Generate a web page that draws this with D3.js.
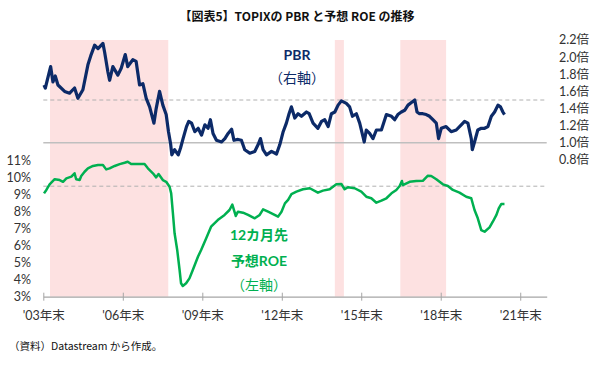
<!DOCTYPE html>
<html><head><meta charset="utf-8">
<script src="https://cdn.jsdelivr.net/npm/d3@7"></script>
<style>
html,body{margin:0;padding:0;background:#fff;}
svg{display:block;}
text{font-family:Lato,"Noto Sans CJK JP",sans-serif;}
</style></head>
<body><svg id="c" width="600" height="366"></svg>
<script>
// ---- data ----
const pbrDates = ["2004-01-10","2004-01-28","2004-04-10","2004-05-12","2004-06-13","2004-07-20","2004-10-20","2004-12-28","2005-03-06","2005-04-21","2005-06-29","2005-09-06","2005-10-21","2005-12-08","2006-01-23","2006-04-01","2006-04-24","2006-06-08","2006-07-02","2006-08-16","2006-10-24","2006-12-09","2007-02-03","2007-03-09","2007-05-18","2007-07-03","2007-08-19","2007-10-04","2007-11-19","2008-01-05","2008-03-04","2008-04-04","2008-05-21","2008-07-05","2008-08-20","2008-09-21","2008-10-20","2008-11-06","2008-12-14","2009-02-03","2009-03-06","2009-04-10","2009-05-27","2009-06-27","2009-08-05","2009-09-19","2009-11-04","2009-12-20","2010-02-05","2010-03-20","2010-04-22","2010-05-28","2010-07-14","2010-09-22","2010-11-07","2010-12-22","2011-02-08","2011-03-12","2011-05-07","2011-06-23","2011-08-08","2011-10-16","2011-12-24","2012-02-09","2012-03-12","2012-04-17","2012-06-03","2012-08-11","2012-10-19","2012-12-04","2013-01-19","2013-03-04","2013-04-10","2013-05-13","2013-06-28","2013-08-12","2013-09-28","2013-12-06","2014-01-12","2014-03-07","2014-05-13","2014-07-01","2014-08-15","2014-10-01","2014-11-15","2015-01-01","2015-02-15","2015-04-01","2015-06-09","2015-07-24","2015-09-01","2015-10-25","2015-12-10","2016-01-25","2016-02-10","2016-03-10","2016-04-25","2016-06-10","2016-07-27","2016-10-04","2016-12-12","2017-02-20","2017-04-05","2017-05-19","2017-07-06","2017-08-21","2017-10-06","2017-11-22","2018-01-07","2018-02-07","2018-03-13","2018-04-28","2018-06-14","2018-07-30","2018-09-14","2018-10-31","2018-12-01","2019-01-07","2019-03-15","2019-05-24","2019-08-02","2019-10-10","2019-11-25","2020-01-10","2020-02-25","2020-03-10","2020-04-10","2020-05-25","2020-07-12","2020-08-27","2020-10-12","2020-11-28","2021-01-12","2021-02-27","2021-04-03","2021-05-06","2021-05-28"];
const pbrValues = [1.675,1.64,1.89,1.71,1.78,1.675,1.60,1.58,1.64,1.52,1.62,1.91,2.03,2.14,2.10,2.16,2.06,1.83,1.73,1.89,1.79,1.87,2.03,1.89,1.97,1.95,1.675,1.69,1.52,1.42,1.23,1.40,1.60,1.44,1.33,1.13,0.99,0.86,0.92,0.86,0.94,1.05,1.19,1.25,1.23,1.13,1.17,1.09,1.21,1.17,1.27,1.11,1.03,1.01,1.05,1.11,1.16,1.03,1.04,1.03,0.92,0.88,0.90,0.98,1.05,0.92,0.86,0.90,0.87,0.98,1.13,1.23,1.34,1.42,1.29,1.34,1.31,1.36,1.34,1.23,1.17,1.25,1.27,1.19,1.34,1.36,1.44,1.49,1.46,1.42,1.31,1.34,1.23,1.07,1.01,1.15,1.11,1.05,1.15,1.15,1.33,1.31,1.27,1.33,1.36,1.38,1.44,1.47,1.50,1.36,1.34,1.34,1.33,1.31,1.27,1.23,1.05,1.17,1.19,1.13,1.15,1.21,1.25,1.23,1.05,0.92,1.01,1.15,1.17,1.17,1.19,1.31,1.36,1.44,1.42,1.36,1.33];

const roeDates = ["2004-01-10","2004-02-11","2004-03-27","2004-06-05","2004-08-13","2004-09-28","2004-11-13","2005-01-21","2005-03-06","2005-03-28","2005-05-15","2005-06-06","2005-07-22","2005-09-06","2005-11-15","2006-01-23","2006-04-01","2006-05-16","2006-07-02","2006-09-10","2006-11-18","2007-01-25","2007-03-09","2007-04-25","2007-07-03","2007-10-27","2007-12-12","2008-02-19","2008-04-04","2008-05-07","2008-07-05","2008-08-20","2008-10-06","2008-10-28","2008-11-21","2008-12-14","2009-01-19","2009-02-21","2009-03-13","2009-04-06","2009-05-22","2009-07-07","2009-08-22","2009-11-01","2009-12-15","2010-02-23","2010-05-01","2010-08-01","2010-11-03","2011-01-10","2011-02-18","2011-04-06","2011-05-07","2011-07-15","2011-09-23","2011-12-24","2012-03-01","2012-04-17","2012-06-25","2012-09-02","2012-11-10","2012-12-27","2013-02-12","2013-03-28","2013-05-13","2013-07-21","2013-10-19","2014-01-21","2014-05-13","2014-07-21","2014-10-22","2015-01-22","2015-04-01","2015-05-16","2015-07-01","2015-10-01","2016-01-01","2016-03-10","2016-05-18","2016-07-27","2016-10-04","2016-12-12","2017-02-20","2017-04-28","2017-06-13","2017-07-14","2017-07-27","2017-10-28","2018-01-28","2018-04-28","2018-07-07","2018-08-22","2018-10-31","2019-01-30","2019-04-09","2019-06-16","2019-09-16","2019-12-18","2020-02-25","2020-04-10","2020-05-25","2020-07-12","2020-08-27","2020-11-03","2020-12-18","2021-02-06","2021-03-10","2021-04-13","2021-05-28"];
const roeValues = [9.08,9.28,9.61,9.91,9.86,9.76,9.96,10.06,10.26,9.91,9.86,10.1,10.35,10.55,10.69,10.75,10.75,10.49,10.55,10.69,10.8,10.88,10.94,10.8,10.8,10.8,10.55,10.26,10.02,10.22,9.86,9.76,9.47,9.08,7.9,6.73,5.75,4.57,3.79,3.63,3.79,4.08,4.57,5.35,5.75,6.44,7.12,7.51,7.81,8.1,8.42,7.75,8.0,7.94,7.81,7.61,7.81,8.14,8.0,7.86,7.71,8.0,8.49,8.69,9.04,9.18,9.32,9.38,9.12,9.24,9.32,9.61,9.63,9.32,9.44,9.38,9.18,8.88,8.79,8.53,8.65,8.79,9.08,9.28,9.51,9.81,9.57,9.76,9.81,9.82,10.12,10.1,9.91,9.61,9.51,9.28,9.12,8.88,8.79,8.1,7.61,6.92,6.82,7.08,7.41,7.81,8.2,8.45,8.45];

const shadeStarts = ["2004-04-01","2015-01-01","2017-06-22"];
const shadeEnds   = ["2008-09-18","2015-05-06","2019-03-15"];

const xTickDates  = ["2003-12-31","2006-12-31","2009-12-31","2012-12-31","2015-12-31","2018-12-31","2021-12-31"];
const xTickLabels = ["'03年末","'06年末","'09年末","'12年末","'15年末","'18年末","'21年末"];
const leftTicks  = [3,4,5,6,7,8,9,10,11];
const rightTicks = [0.8,1.0,1.2,1.4,1.6,1.8,2.0,2.2];
const pbrRefSolid = 1.0, pbrRefDash = 1.5, roeRefDash = 9.5;

// ---- drawing ----
const parse = d3.timeParse("%Y-%m-%d");
const svg = d3.select("#c");
const x = d3.scaleTime().domain([parse("2003-12-31"), parse("2022-12-31")]).range([43.3, 546.7]);
const yL = d3.scaleLinear().domain([3, 11]).range([296.7, 160.7]);
const yR = d3.scaleLinear().domain([0.8, 2.2]).range([160, 40]);
const navy = "#0c2a68", green = "#00b050";

// shading
svg.append("g").selectAll("rect").data(shadeStarts.map((s,i)=>[parse(s),parse(shadeEnds[i])]))
  .join("rect").attr("x",d=>x(d[0])).attr("width",d=>x(d[1])-x(d[0]))
  .attr("y",yR(2.2)).attr("height",yL(3)-yR(2.2)).attr("fill","#fde1e1");

// reference lines
const x0 = x.range()[0], x1 = x.range()[1];
svg.append("line").attr("x1",x0).attr("x2",x1).attr("y1",yR(pbrRefSolid)).attr("y2",yR(pbrRefSolid))
  .attr("stroke","#bfbfbf").attr("stroke-width",1.5);
svg.append("line").attr("x1",x0).attr("x2",x1).attr("y1",yR(pbrRefDash)).attr("y2",yR(pbrRefDash))
  .attr("stroke","#b0b0b0").attr("stroke-width",1).attr("stroke-dasharray","4,3");
svg.append("line").attr("x1",x0).attr("x2",x1).attr("y1",yL(roeRefDash)).attr("y2",yL(roeRefDash))
  .attr("stroke","#b0b0b0").attr("stroke-width",1).attr("stroke-dasharray","4,3");

// x axis
const xa = svg.append("g").attr("transform",`translate(0,${yL(3)})`)
  .call(d3.axisBottom(x).tickValues(xTickDates.map(parse))
    .tickFormat((d,i)=>xTickLabels[i]).tickSizeInner(4).tickSizeOuter(0).tickPadding(10));
xa.select(".domain").attr("stroke","#a6a6a6").attr("stroke-width",1.2);
xa.selectAll(".tick line").attr("stroke","#a6a6a6").attr("y1",-4).attr("y2",4);
xa.selectAll(".tick text").attr("fill","#333").attr("font-size",12.5);

// left axis labels
svg.append("g").selectAll("text").data(leftTicks).join("text")
  .attr("x",31).attr("y",d=>yL(d)).attr("dy","0.35em").attr("text-anchor","end")
  .attr("font-size",12.5).attr("fill","#333").text(d=>d+"%");
// right axis labels
svg.append("g").selectAll("text").data(rightTicks).join("text")
  .attr("x",559).attr("y",d=>yR(d)).attr("dy","0.35em").attr("text-anchor","start")
  .attr("font-size",12.5).attr("fill","#333").text(d=>d3.format(".1f")(d)+"倍");

// lines
const pbr = pbrDates.map((d,i)=>({d:parse(d),v:pbrValues[i]}));
const roe = roeDates.map((d,i)=>({d:parse(d),v:roeValues[i]}));
svg.append("path").datum(roe).attr("fill","none").attr("stroke",green).attr("stroke-width",2.5)
  .attr("stroke-linejoin","round").attr("d",d3.line().x(p=>x(p.d)).y(p=>yL(p.v)));
svg.append("path").datum(pbr).attr("fill","none").attr("stroke",navy).attr("stroke-width",3.2)
  .attr("stroke-linejoin","round").attr("d",d3.line().x(p=>x(p.d)).y(p=>yR(p.v)));

// annotations
svg.append("text").attr("x",297).attr("y",17).attr("dy","0.35em").attr("text-anchor","middle")
  .attr("font-size",12).attr("font-weight","bold").attr("fill","#111")
  .style("font-family","'Noto Sans CJK JP',sans-serif").text("【図表5】TOPIXの PBR と予想 ROE の推移");
svg.append("text").attr("x",297).attr("y",55).attr("dy","0.35em").attr("text-anchor","middle")
  .attr("font-size",14).attr("font-weight","bold").attr("fill",navy).text("PBR");
svg.append("text").attr("x",297).attr("y",78).attr("dy","0.35em").attr("text-anchor","middle")
  .attr("font-size",14).attr("fill",navy).text("（右軸）");
svg.append("text").attr("x",259).attr("y",235).attr("dy","0.35em").attr("text-anchor","middle")
  .attr("font-size",14).attr("font-weight","bold").attr("fill",green).text("12カ月先");
svg.append("text").attr("x",259).attr("y",261.5).attr("dy","0.35em").attr("text-anchor","middle")
  .attr("font-size",14).attr("font-weight","bold").attr("fill",green).text("予想ROE");
svg.append("text").attr("x",259).attr("y",285).attr("dy","0.35em").attr("text-anchor","middle")
  .attr("font-size",14).attr("fill",green).text("（左軸）");
svg.append("text").attr("x",9).attr("y",346).attr("dy","0.35em").attr("text-anchor","start")
  .attr("font-size",10.5).attr("fill","#111")
  .style("font-family","'Noto Sans CJK JP',sans-serif").text("（資料）Datastream から作成。");
</script></body></html>
